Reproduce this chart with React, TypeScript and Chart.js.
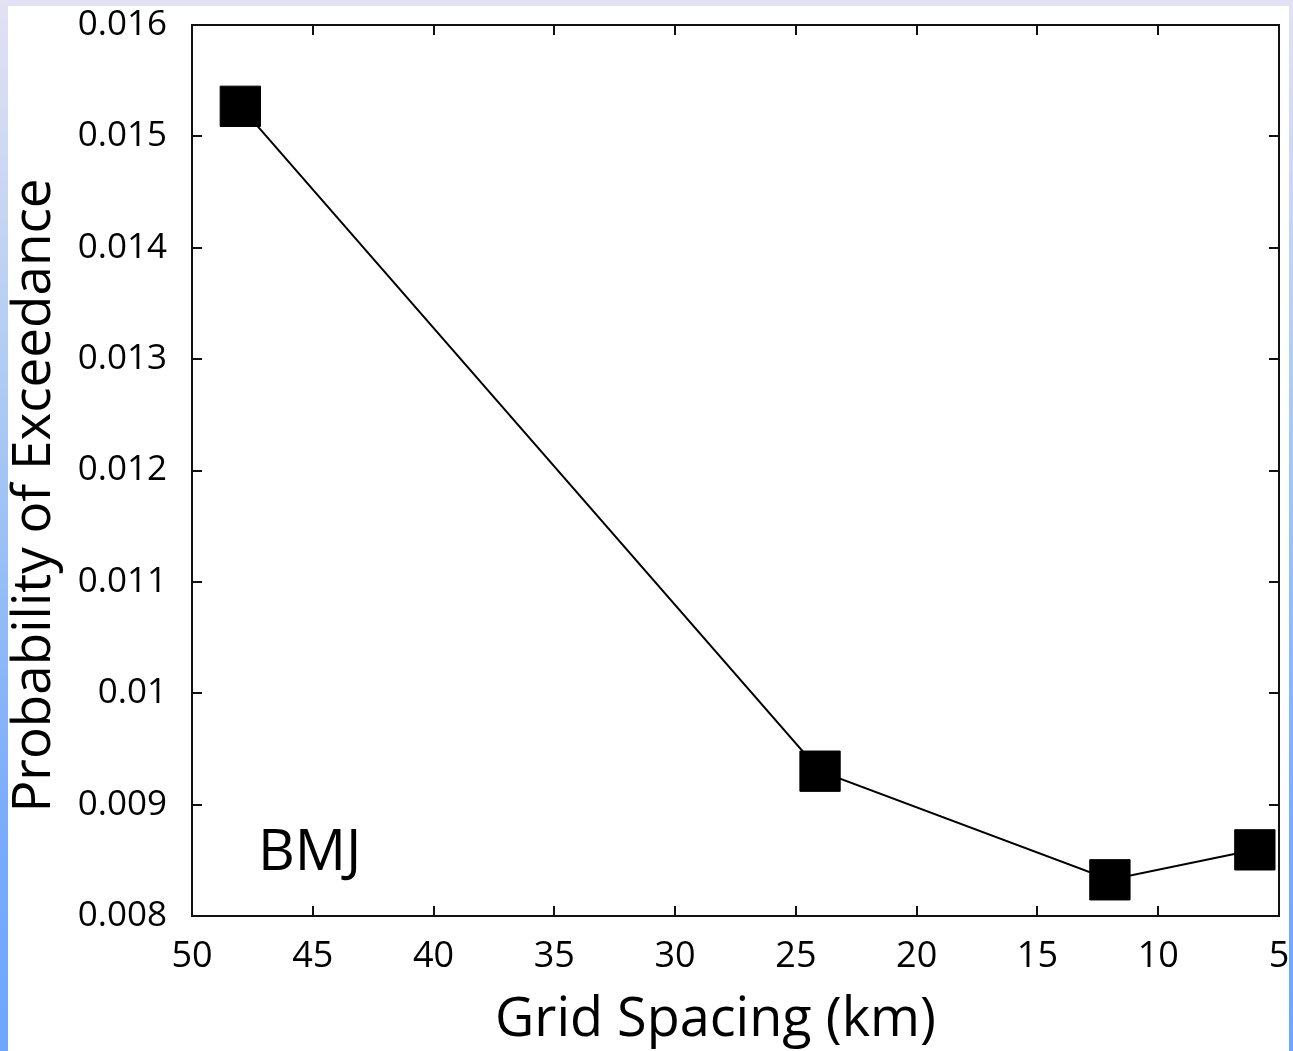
import React, { useEffect, useRef } from "react";
import { Chart, registerables } from "chart.js";

Chart.register(...registerables);

const gridSpacingKm = [48, 24, 12, 6];
const probExceedance = [0.01527, 0.0093, 0.008325, 0.008594];
const xTickValues = [50, 45, 40, 35, 30, 25, 20, 15, 10, 5];
const yTickValues = [0.008, 0.009, 0.01, 0.011, 0.012, 0.013, 0.014, 0.015, 0.016];
const yTickLabels = ["0.008", "0.009", "0.01", "0.011", "0.012", "0.013", "0.014", "0.015", "0.016"];
const xTitle = "Grid Spacing (km)";
const yTitle = "Probability of Exceedance";
const panelLabel = "BMJ";

const FONT = "'Open Sans', 'Noto Sans', sans-serif";

const framePlugin = {
  id: "framePlugin",
  afterDraw(chart: any) {
    const { ctx, chartArea } = chart;
    const { left, right, top, bottom } = chartArea;
    const xs = chart.scales.x;
    const ys = chart.scales.y;
    const tick = 10;
    ctx.save();
    ctx.strokeStyle = "#111";
    ctx.lineWidth = 2;
    ctx.strokeRect(left, top, right - left, bottom - top);
    ctx.beginPath();
    xTickValues.forEach((v) => {
      if (v === xs.min || v === xs.max) return;
      const px = Math.round(xs.getPixelForValue(v));
      ctx.moveTo(px, bottom);
      ctx.lineTo(px, bottom - tick);
      ctx.moveTo(px, top);
      ctx.lineTo(px, top + tick);
    });
    yTickValues.forEach((v) => {
      if (v === ys.min || v === ys.max) return;
      const py = Math.round(ys.getPixelForValue(v));
      ctx.moveTo(left, py);
      ctx.lineTo(left + tick, py);
      ctx.moveTo(right, py);
      ctx.lineTo(right - tick, py);
    });
    ctx.stroke();

    ctx.fillStyle = "#000";
    // x title
    ctx.font = `54px ${FONT}`;
    ctx.textAlign = "center";
    ctx.textBaseline = "alphabetic";
    ctx.fillText(xTitle, (left + right) / 2 - 20, 1030);
    // y title
    ctx.save();
    ctx.font = `53px ${FONT}`;
    ctx.translate(42, (top + bottom) / 2 + 25);
    ctx.rotate(-Math.PI / 2);
    ctx.fillText(yTitle, 0, 0);
    ctx.restore();
    // panel label
    ctx.textAlign = "left";
    ctx.font = `57px ${FONT}`;
    ctx.fillText(panelLabel, left + 66, bottom - 46);
    ctx.restore();
  },
};

export default function App() {
  const canvasRef = useRef<HTMLCanvasElement | null>(null);

  useEffect(() => {
    if (!canvasRef.current) return;
    const chart = new Chart(canvasRef.current, {
      type: "line",
      data: {
        datasets: [
          {
            data: gridSpacingKm.map((x, i) => ({ x, y: probExceedance[i] })),
            borderColor: "#000",
            borderWidth: 2,
            backgroundColor: "#000",
            pointStyle: "rect",
            pointRadius: 28.5,
            pointBorderWidth: 1,
            pointBorderColor: "#000",
            pointBackgroundColor: "#000",
            tension: 0,
          },
        ],
      },
      options: {
        animation: false,
        responsive: false,
        devicePixelRatio: 1,
        layout: { autoPadding: false, padding: { top: 19, right: 10, left: 0, bottom: 0 } },
        plugins: {
          legend: { display: false },
          tooltip: { enabled: false },
          title: { display: false },
        },
        scales: {
          x: {
            type: "linear",
            reverse: true,
            min: 5,
            max: 50,
            grid: { display: false, drawTicks: false },
            border: { display: false },
            afterBuildTicks: (s: any) => {
              s.ticks = xTickValues.map((v) => ({ value: v }));
            },
            afterFit: (s: any) => {
              s.height = 135;
              s.paddingLeft = 0;
              s.paddingRight = 0;
            },
            ticks: {
              autoSkip: false,
              maxRotation: 0,
              padding: 19,
              color: "#000",
              font: { family: FONT, size: 36 },
              callback: (v: any) => String(v),
            },
          },
          y: {
            type: "linear",
            min: 0.008,
            max: 0.016,
            grid: { display: false, drawTicks: false },
            border: { display: false },
            afterBuildTicks: (s: any) => {
              s.ticks = yTickValues.map((v) => ({ value: v }));
            },
            afterFit: (s: any) => {
              s.width = 184;
              s.paddingTop = 0;
              s.paddingBottom = 0;
            },
            ticks: {
              autoSkip: false,
              padding: 25,
              color: "#000",
              font: { family: FONT, size: 35 },
              callback: (_v: any, i: number) => yTickLabels[i],
            },
          },
        },
      },
      plugins: [framePlugin],
    });
    return () => chart.destroy();
  }, []);

  return (
    <div
      style={{
        position: "fixed",
        left: 0,
        top: 0,
        width: 1293,
        height: 1051,
        background:
          "linear-gradient(to bottom, #e3e1f4 0%, #a8c9f3 40%, #78abfc 80%, #6ea6fe 100%)",
        overflow: "hidden",
      }}
    >
      <div
        style={{
          position: "absolute",
          left: 8,
          top: 6,
          width: 1281,
          height: 1045,
          background: "#fff",
        }}
      >
        <canvas ref={canvasRef} width={1281} height={1045} style={{ width: 1281, height: 1045, display: "block" }} />
      </div>
    </div>
  );
}
